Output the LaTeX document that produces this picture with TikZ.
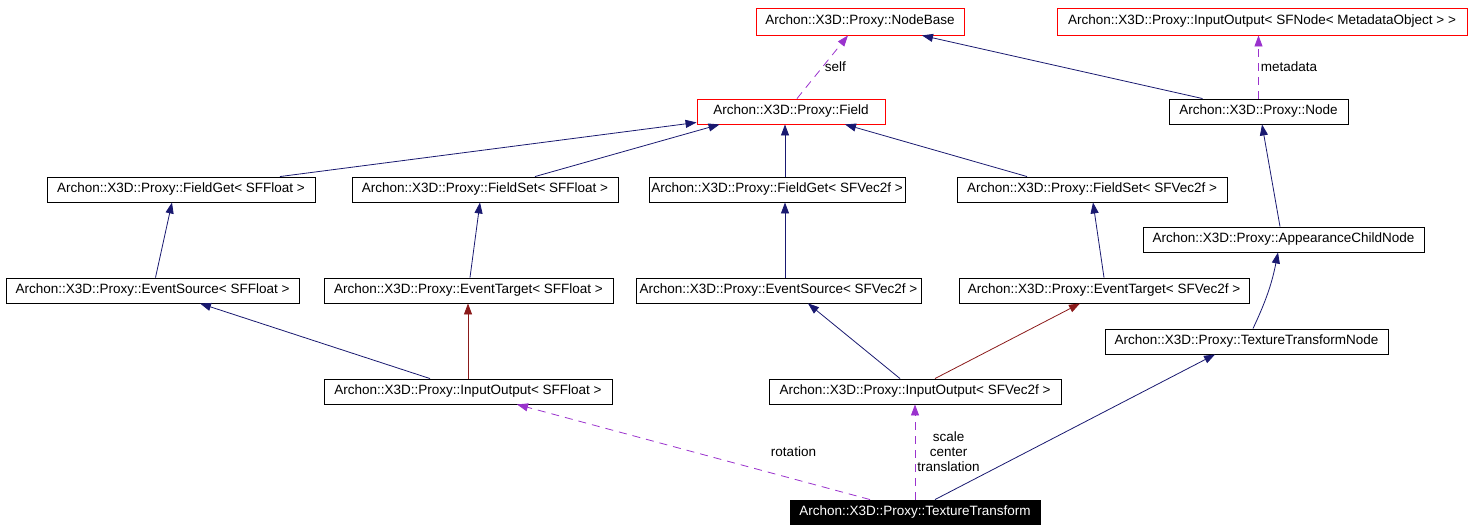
\documentclass[tikz,border=0pt]{standalone}
\usepackage{fontspec}
\setmainfont{Liberation Sans}
\usetikzlibrary{arrows.meta, calc}
\definecolor{edgeBlue}{HTML}{191970}
\definecolor{edgeRed}{HTML}{8B1A1A}
\definecolor{edgePurple}{HTML}{9A32CD}

\begin{document}
\begin{tikzpicture}[x=1pt, y=-1pt,
    cbox/.style={rectangle, draw=black, line width=0.9pt, minimum height=25pt, inner sep=0pt,
      font=\fontsize{13.5}{15}\selectfont},
    rbox/.style={cbox, draw=red},
    sbox/.style={cbox, fill=black, text=white},
    inh/.style={-{Triangle[length=11pt, width=8pt]}, line width=0.8pt, edgeBlue},
    prot/.style={inh, edgeRed},
    usage/.style={inh, edgePurple, dash pattern=on 8pt off 6pt},
    lbl/.style={font=\fontsize{13.5}{15}\selectfont, text=black, align=center, inner sep=2pt}
  ]
  \useasboundingbox (0,0) rectangle (1468,531);

  \node[rbox, minimum width=208, minimum height=27] (base) at (860,21.5) {Archon::X3D::Proxy::NodeBase};
  \node[rbox, minimum width=410, minimum height=27] (meta) at (1262,21.5) {Archon::X3D::Proxy::InputOutput< SFNode< MetadataObject > >};
  \node[rbox, minimum width=188] (field) at (791,111.5) {Archon::X3D::Proxy::Field};
  \node[cbox, minimum width=179] (xnode) at (1258.5,111.5) {Archon::X3D::Proxy::Node};
  \node[cbox, minimum width=268] (getf) at (181,189.5) {Archon::X3D::Proxy::FieldGet< SFFloat >};
  \node[cbox, minimum width=266] (setf) at (485,189.5) {Archon::X3D::Proxy::FieldSet< SFFloat >};
  \node[cbox, minimum width=256] (getv) at (777,189.5) {Archon::X3D::Proxy::FieldGet< SFVec2f >};
  \node[cbox, minimum width=270] (setv) at (1092,189.5) {Archon::X3D::Proxy::FieldSet< SFVec2f >};
  \node[cbox, minimum width=281] (appch) at (1283.5,239.5) {Archon::X3D::Proxy::AppearanceChildNode};
  \node[cbox, minimum width=293] (srcf) at (152.5,290.5) {Archon::X3D::Proxy::EventSource< SFFloat >};
  \node[cbox, minimum width=289] (tgtf) at (468.5,290.5) {Archon::X3D::Proxy::EventTarget< SFFloat >};
  \node[cbox, minimum width=285] (srcv) at (778.5,290.5) {Archon::X3D::Proxy::EventSource< SFVec2f >};
  \node[cbox, minimum width=290] (tgtv) at (1104,290.5) {Archon::X3D::Proxy::EventTarget< SFVec2f >};
  \node[cbox, minimum width=283] (ttnode) at (1246.5,341.5) {Archon::X3D::Proxy::TextureTransformNode};
  \node[cbox, minimum width=288] (iof) at (468,391.5) {Archon::X3D::Proxy::InputOutput< SFFloat >};
  \node[cbox, minimum width=292] (iov) at (915,391.5) {Archon::X3D::Proxy::InputOutput< SFVec2f >};
  \node[sbox, minimum width=250, minimum height=24] (tt) at (915,512) {Archon::X3D::Proxy::TextureTransform};

  % upper part
  \draw[usage] ($(field.north)+(6,0)$) -- node[lbl, right] {self} ($(base.south)+(-12,0)$);
  \draw[inh] ($(xnode.north)+(-56,0)$) -- ($(base.south)+(62,0)$);
  \draw[usage] (xnode.north) -- node[lbl, right] {metadata} (xnode.north |- meta.south);
  \draw[inh] ($(getf.north)+(99,0)$) -- ($(field.south west)+(0,-2)$);
  \draw[inh] ($(setf.north)+(50,0)$) -- ($(field.south west)+(23,0)$);
  \draw[inh] ($(getv.north)+(8,0)$) -- ($(field.south)+(-6,0)$);
  \draw[inh] ($(setv.north)+(-65,0)$) -- ($(field.south)+(54,0)$);
  \draw[inh] ($(srcf.north)+(3,0)$) -- ($(getf.south)+(-9,0)$);
  \draw[inh] ($(tgtf.north)+(1.5,0)$) -- ($(setf.south)+(-5,0)$);
  \draw[inh] ($(srcv.north)+(6.5,0)$) -- ($(getv.south)+(8,0)$);
  \draw[inh] (tgtv.north) -- ($(setv.south)+(1,0)$);
  \draw[inh] ($(appch.north)+(-3.5,0)$) -- ($(xnode.south)+(3.5,0)$);
  \draw[inh] ($(ttnode.north)+(6.5,0)$) to[bend right=7] ($(appch.south)+(-5.5,0)$);

  % lower part
  \draw[inh] ($(iof.north)+(-38,0)$) -- ($(srcf.south)+(47.5,0)$);
  \draw[prot] (iof.north) -- ($(tgtf.south)+(-0.5,0)$);
  \draw[inh] ($(iov.north)+(-15,0)$) -- ($(srcv.south)+(29.5,0)$);
  \draw[prot] ($(iov.north)+(20,0)$) -- ($(tgtv.south)+(-24,0)$);
  \draw[usage] ($(tt.north)+(-45,0)$) -- node[lbl, pos=0.5, xshift=100] {rotation} ($(iof.south)+(49,0)$);
  \draw[usage] (tt.north) -- node[lbl, right] {scale\\center\\translation} (iov.south);
  \draw[inh] ($(tt.north)+(20,0)$) -- ($(ttnode.south)+(-31.5,0)$);
\end{tikzpicture}
\end{document}
